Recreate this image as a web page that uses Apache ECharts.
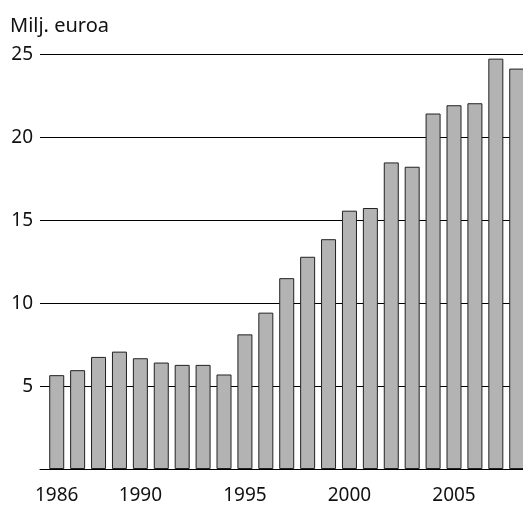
<!DOCTYPE html>
<html>
<head>
<meta charset="utf-8">
<script src="https://cdn.jsdelivr.net/npm/echarts@6/dist/echarts.min.js"></script>
<style>
  html, body { margin: 0; padding: 0; background: #fff; }
  #main { width: 523px; height: 505px; }
</style>
</head>
<body>
<div id="main"></div>
<script>
// vuodet ja arvot (milj. euroa)
var years = [1986, 1987, 1988, 1989, 1990, 1991, 1992, 1993, 1994, 1995, 1996, 1997,
             1998, 1999, 2000, 2001, 2002, 2003, 2004, 2005, 2006, 2007, 2008];
var values = [5.66, 5.96, 6.76, 7.08, 6.68, 6.42, 6.28, 6.28, 5.70, 8.12, 9.43, 11.51,
              12.80, 13.86, 15.58, 15.74, 18.49, 18.23, 21.44, 21.94, 22.06, 24.75, 24.15];
var yearTicks = [1986, 1990, 1995, 2000, 2005];
var valueTicks = [5, 10, 15, 20, 25];

var font = 'Noto Sans';
var myChart = echarts.init(document.getElementById('main'));
myChart.setOption({
    animation : false,
    title : {
	text : 'Milj. euroa',
	left : 10,
	top : 16,
	padding : 0,
	textStyle : {
	    fontFamily : font,
	    fontSize : 20,
	    fontWeight : 'normal',
	    color : '#111'
	}
    },
    grid : {
	left : 40,
	right : 0,
	top : 54.5,
	bottom : 35
    },
    xAxis : {
	type : 'value',
	min : 1985.2,
	max : 2008.3,
	splitLine : { show : false },
	axisLine : { show : true, onZero : false, lineStyle : { color : '#000', width : 1 } },
	axisTick : { show : false },
	axisLabel : {
	    customValues : yearTicks,
	    formatter : function(v) { return String(v); },
	    margin : 17,
	    fontFamily : font,
	    fontSize : 19,
	    color : '#111'
	}
    },
    yAxis : {
	type : 'value',
	min : 0,
	max : 25,
	interval : 5,
	axisLine : { show : false },
	axisTick : { show : false },
	splitLine : { show : true, lineStyle : { color : '#000', width : 1 } },
	axisLabel : {
	    margin : 7,
	    fontFamily : font,
	    fontSize : 19,
	    color : '#111',
	    formatter : function(v) { return valueTicks.indexOf(v) >= 0 ? String(v) : ''; }
	}
    },
    series : [ {
	type : 'bar',
	barWidth : 15,
	data : years.map(function(y, i) { return [y, values[i]]; }),
	itemStyle : {
	    color : '#b3b3b3',
	    borderColor : '#222',
	    borderWidth : 1
	}
    } ]
});
</script>
</body>
</html>
